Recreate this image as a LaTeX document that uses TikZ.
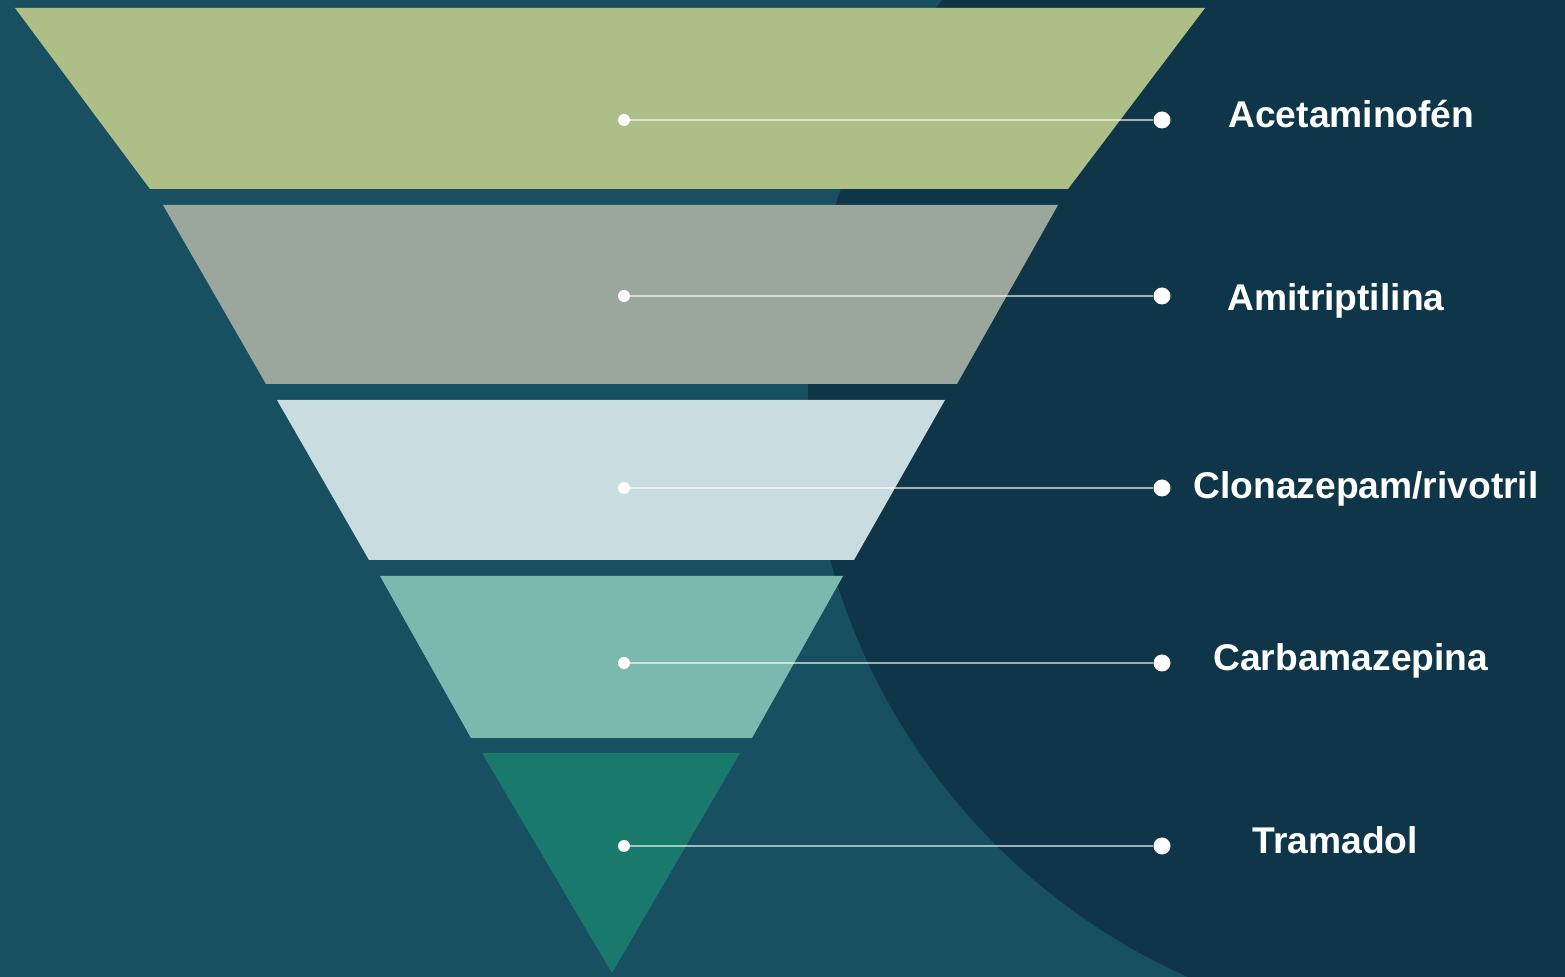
\documentclass[tikz,border=0pt]{standalone}
\usepackage{fontspec}
\setmainfont{Liberation Sans}
\usetikzlibrary{positioning}

\definecolor{bgteal}{HTML}{185062}
\definecolor{bgdark}{HTML}{0E3648}
\definecolor{tierA}{HTML}{ADBE87}
\definecolor{tierB}{HTML}{9BA79D}
\definecolor{tierC}{HTML}{C9DDE0}
\definecolor{tierD}{HTML}{7BB8AE}
\definecolor{tierE}{HTML}{18796C}

\begin{document}
\begin{tikzpicture}[x=0.5pt, y=-0.5pt,
  dot/.style={circle, fill=white, inner sep=0pt, minimum size=6pt},
  bigdot/.style={circle, fill=white, inner sep=0pt, minimum size=8.5pt},
  link/.style={draw=white, draw opacity=0.6, line width=0.8pt},
  drug/.style={anchor=base west, inner sep=0pt, text=white,
               font=\bfseries\fontsize{18.6}{22}\selectfont}]
  % background and the dark disc on the right
  \useasboundingbox (0,0) rectangle (1565,977);
  \fill[bgteal] (0,0) rectangle (1565,977);
  \begin{scope}
    \clip (0,0) rectangle (1565,977);
    \fill[bgdark] (1448,392) circle[radius=320pt];
  \end{scope}
  % funnel tiers
  \fill[tierA] (15,8) -- (1205,8) -- (1068,189) -- (150,189) -- cycle;
  \fill[tierB] (163,205) -- (1058,205) -- (957,384) -- (266,384) -- cycle;
  \fill[tierC] (277,400) -- (945,400) -- (854,560) -- (369,560) -- cycle;
  \fill[tierD] (380,576) -- (843,576) -- (752,738) -- (471,738) -- cycle;
  \fill[tierE] (482,753) -- (740,753) -- (612,973) -- cycle;
  % markers and names
  \node[dot] (a1) at (624,120) {};
  \node[bigdot] (b1) at (1162,120) {};
  \node[drug] (n1) at (1228,128) {Acetaminofén};
  \draw[link] (a1) -- (b1);
  \node[dot] (a2) at (624,296) {};
  \node[bigdot] (b2) at (1162,296) {};
  \node[drug] (n2) at (1227,311) {Amitriptilina};
  \draw[link] (a2) -- (b2);
  \node[dot] (a3) at (624,488) {};
  \node[bigdot] (b3) at (1162,488) {};
  \node[drug] (n3) at (1193,499) {Clonazepam/rivotril};
  \draw[link] (a3) -- (b3);
  \node[dot] (a4) at (624,663) {};
  \node[bigdot] (b4) at (1162,663) {};
  \node[drug] (n4) at (1213,671) {Carbamazepina};
  \draw[link] (a4) -- (b4);
  \node[dot] (a5) at (624,846) {};
  \node[bigdot] (b5) at (1162,846) {};
  \node[drug] (n5) at (1252,854) {Tramadol};
  \draw[link] (a5) -- (b5);
\end{tikzpicture}
\end{document}
